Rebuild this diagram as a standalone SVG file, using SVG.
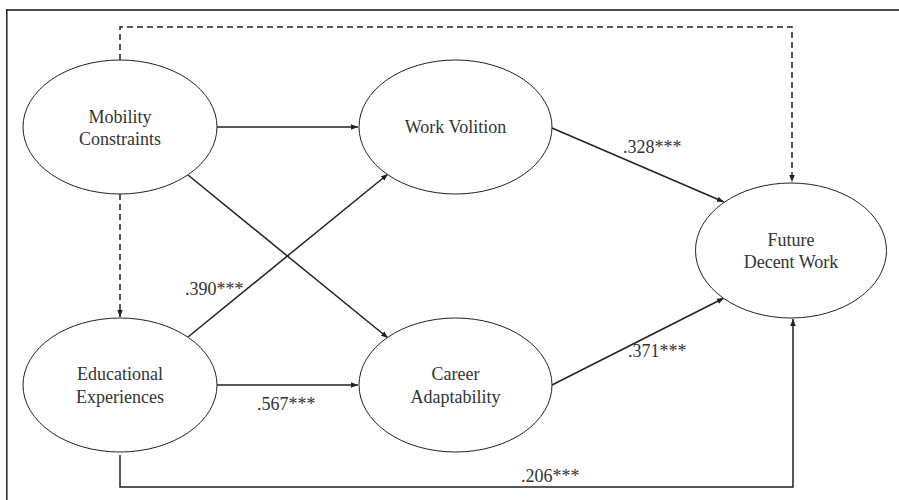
<svg xmlns="http://www.w3.org/2000/svg" width="899" height="500" viewBox="0 0 899 500">
<style>
.node ellipse{fill:#fff;stroke:#222;stroke-width:1}
.node text,.lbl{font-family:"Liberation Serif","Times New Roman",serif;font-size:18px;fill:#333;text-anchor:middle}
.lbl{text-anchor:start}
.c{fill:none;stroke:#222;stroke-width:1.5}
.d{stroke-dasharray:6 4}
</style>
<defs>
<marker id="ah" viewBox="0 0 10 10" refX="10" refY="5" markerWidth="7" markerHeight="7" markerUnits="userSpaceOnUse" orient="auto">
<path d="M0,1 L10,5 L0,9 Z" fill="#222"/>
</marker>
</defs>
<rect width="899" height="500" fill="#fff"/>
<line x1="6" y1="10" x2="899" y2="10" stroke="#4d4d4d" stroke-width="2"/>
<line x1="6.8" y1="9" x2="6.8" y2="500" stroke="#222" stroke-width="1.5"/>
<g id="connectors">
<path class="c d" d="M120,60 V27 H792 V182" marker-end="url(#ah)"/>
<path class="c d" d="M120,194 V317" marker-end="url(#ah)"/>
<path class="c" d="M216,127 H358" marker-end="url(#ah)"/>
<path class="c" d="M188,175 L388,338" marker-end="url(#ah)"/>
<path class="c" d="M188,337 L388,174" marker-end="url(#ah)"/>
<path class="c" d="M216,385 H358" marker-end="url(#ah)"/>
<path class="c" d="M552,128 L724,202" marker-end="url(#ah)"/>
<path class="c" d="M552,385 L724,298" marker-end="url(#ah)"/>
<path class="c" d="M120,455 V487 H793 V319" marker-end="url(#ah)"/>
<text class="lbl" x="623" y="153">.328***</text>
<text class="lbl" x="185" y="295">.390***</text>
<text class="lbl" x="257" y="410">.567***</text>
<text class="lbl" x="628" y="357">.371***</text>
<text class="lbl" x="521" y="482">.206***</text>
</g>
<g id="mobility" class="node">
<ellipse cx="120" cy="127" rx="97" ry="67"/>
<text x="120" y="123">Mobility</text>
<text x="120" y="145">Constraints</text>
</g>
<g id="volition" class="node">
<ellipse cx="455.5" cy="127" rx="96.5" ry="67"/>
<text x="455.5" y="133">Work Volition</text>
</g>
<g id="future" class="node">
<ellipse cx="791" cy="250.5" rx="95.5" ry="67.5"/>
<text x="791" y="246">Future</text>
<text x="791" y="268">Decent Work</text>
</g>
<g id="education" class="node">
<ellipse cx="120" cy="385" rx="97" ry="67"/>
<text x="120" y="380">Educational</text>
<text x="120" y="403">Experiences</text>
</g>
<g id="adaptability" class="node">
<ellipse cx="455.5" cy="385" rx="96.5" ry="67"/>
<text x="455.5" y="380">Career</text>
<text x="455.5" y="403">Adaptability</text>
</g>
</svg>
